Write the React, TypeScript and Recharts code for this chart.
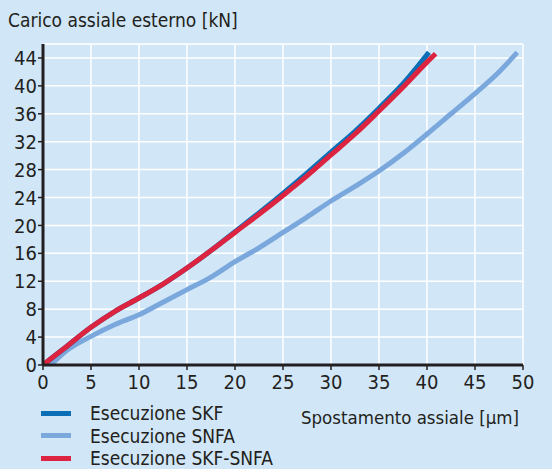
import React from 'react';
import { LineChart, Line, XAxis, YAxis, CartesianGrid, ReferenceLine } from 'recharts';

const xTicks = [0, 5, 10, 15, 20, 25, 30, 35, 40, 45, 50];
const yTicks = [0, 4, 8, 12, 16, 20, 24, 28, 32, 36, 40, 44];

const skf = [
  { x: 0, y: 0 }, { x: 2.5, y: 2.7 }, { x: 5, y: 5.4 }, { x: 7.5, y: 7.7 }, { x: 10, y: 9.6 },
  { x: 12.5, y: 11.6 }, { x: 15, y: 13.9 }, { x: 17.5, y: 16.4 }, { x: 20, y: 19.1 },
  { x: 22.5, y: 21.8 }, { x: 25, y: 24.6 }, { x: 27.5, y: 27.5 }, { x: 30, y: 30.5 },
  { x: 32.5, y: 33.5 }, { x: 35, y: 36.8 }, { x: 37.5, y: 40.3 }, { x: 40.2, y: 44.8 },
];
const snfa = [
  { x: 0.8, y: 0 }, { x: 2.5, y: 2.1 }, { x: 5, y: 4.1 }, { x: 7.5, y: 5.8 }, { x: 10, y: 7.2 },
  { x: 12.5, y: 9.0 }, { x: 15, y: 10.8 }, { x: 17.5, y: 12.6 }, { x: 20, y: 14.8 },
  { x: 22.5, y: 16.8 }, { x: 25, y: 19.0 }, { x: 27.5, y: 21.2 }, { x: 30, y: 23.5 },
  { x: 32.5, y: 25.6 }, { x: 35, y: 27.8 }, { x: 37.5, y: 30.3 }, { x: 40, y: 33.1 },
  { x: 42.5, y: 36.0 }, { x: 45, y: 38.9 }, { x: 47.5, y: 42.0 }, { x: 49.4, y: 44.8 },
];
const skfSnfa = [
  { x: 0, y: 0 }, { x: 2.5, y: 2.7 }, { x: 5, y: 5.4 }, { x: 7.5, y: 7.7 }, { x: 10, y: 9.6 },
  { x: 12.5, y: 11.6 }, { x: 15, y: 13.9 }, { x: 17.5, y: 16.4 }, { x: 20, y: 19.0 },
  { x: 22.5, y: 21.6 }, { x: 25, y: 24.3 }, { x: 27.5, y: 27.1 }, { x: 30, y: 30.1 },
  { x: 32.5, y: 33.1 }, { x: 35, y: 36.4 }, { x: 37.5, y: 39.8 }, { x: 40, y: 43.4 }, { x: 40.9, y: 44.6 },
];

const seriesNames = ['Esecuzione SKF', 'Esecuzione SNFA', 'Esecuzione SKF-SNFA'];
const colors = ['#0a6fb6', '#7aa7dc', '#dc2340'];
const BG = '#d1e7f7';
const FONT = '"DejaVu Sans Condensed", "Liberation Sans Narrow", "Open Sans", sans-serif';
const TXT = '#231f20';

export default function App() {
  return (
    <div style={{ position: 'absolute', left: 0, top: 0, width: 552, height: 469, background: BG }}>
      <div style={{ position: 'absolute', left: 8, top: 9, fontFamily: FONT, fontSize: 19, color: TXT, whiteSpace: 'nowrap' }}>
        Carico assiale esterno [kN]
      </div>
      <LineChart width={552} height={469} margin={{ top: 44, right: 29, left: 0, bottom: 42 }}>
        <CartesianGrid stroke="#ffffff" strokeWidth={1.5} fill={BG} verticalValues={xTicks} horizontalValues={yTicks} />
        <ReferenceLine y={46} stroke="#ffffff" strokeWidth={1.5} />
        <XAxis
          type="number"
          dataKey="x"
          domain={[0, 50]}
          ticks={xTicks}
          interval={0}
          allowDataOverflow
          height={62}
          axisLine={{ stroke: TXT, strokeWidth: 3 }}
          tickLine={{ stroke: TXT, strokeWidth: 1.5 }}
          tickSize={5}
          tick={{ fill: TXT, fontSize: 20, fontFamily: FONT, dy: 3 }}
          label={{ value: 'Spostamento assiale [µm]', position: 'insideBottomRight', offset: 3, fill: TXT, fontSize: 18.5, fontFamily: FONT, dx: -1 }}
        />
        <YAxis
          type="number"
          dataKey="y"
          domain={[0, 46]}
          ticks={yTicks}
          interval={0}
          width={43}
          allowDataOverflow
          axisLine={{ stroke: TXT, strokeWidth: 3 }}
          tickLine={{ stroke: TXT, strokeWidth: 1.5 }}
          tickSize={5}
          tick={{ fill: TXT, fontSize: 20, fontFamily: FONT, dx: 1 }}
        />
        <Line data={snfa} dataKey="y" name={seriesNames[1]} stroke={colors[1]} strokeWidth={5} dot={false} isAnimationActive={false} type="monotone" />
        <Line data={skf} dataKey="y" name={seriesNames[0]} stroke={colors[0]} strokeWidth={5} dot={false} isAnimationActive={false} type="monotone" />
        <Line data={skfSnfa} dataKey="y" name={seriesNames[2]} stroke={colors[2]} strokeWidth={5} dot={false} isAnimationActive={false} type="monotone" />
      </LineChart>
      <div style={{ position: 'absolute', left: 0, top: 402, fontFamily: FONT, fontSize: 19, color: TXT }}>
        {seriesNames.map((n, i) => (
          <div key={n} style={{ display: 'flex', alignItems: 'center', height: 22.5 }}>
            <div style={{ width: 30, height: 5, background: colors[i], marginLeft: 41, marginRight: 19 }} />
            <span style={{ whiteSpace: 'nowrap' }}>{n}</span>
          </div>
        ))}
      </div>
    </div>
  );
}
